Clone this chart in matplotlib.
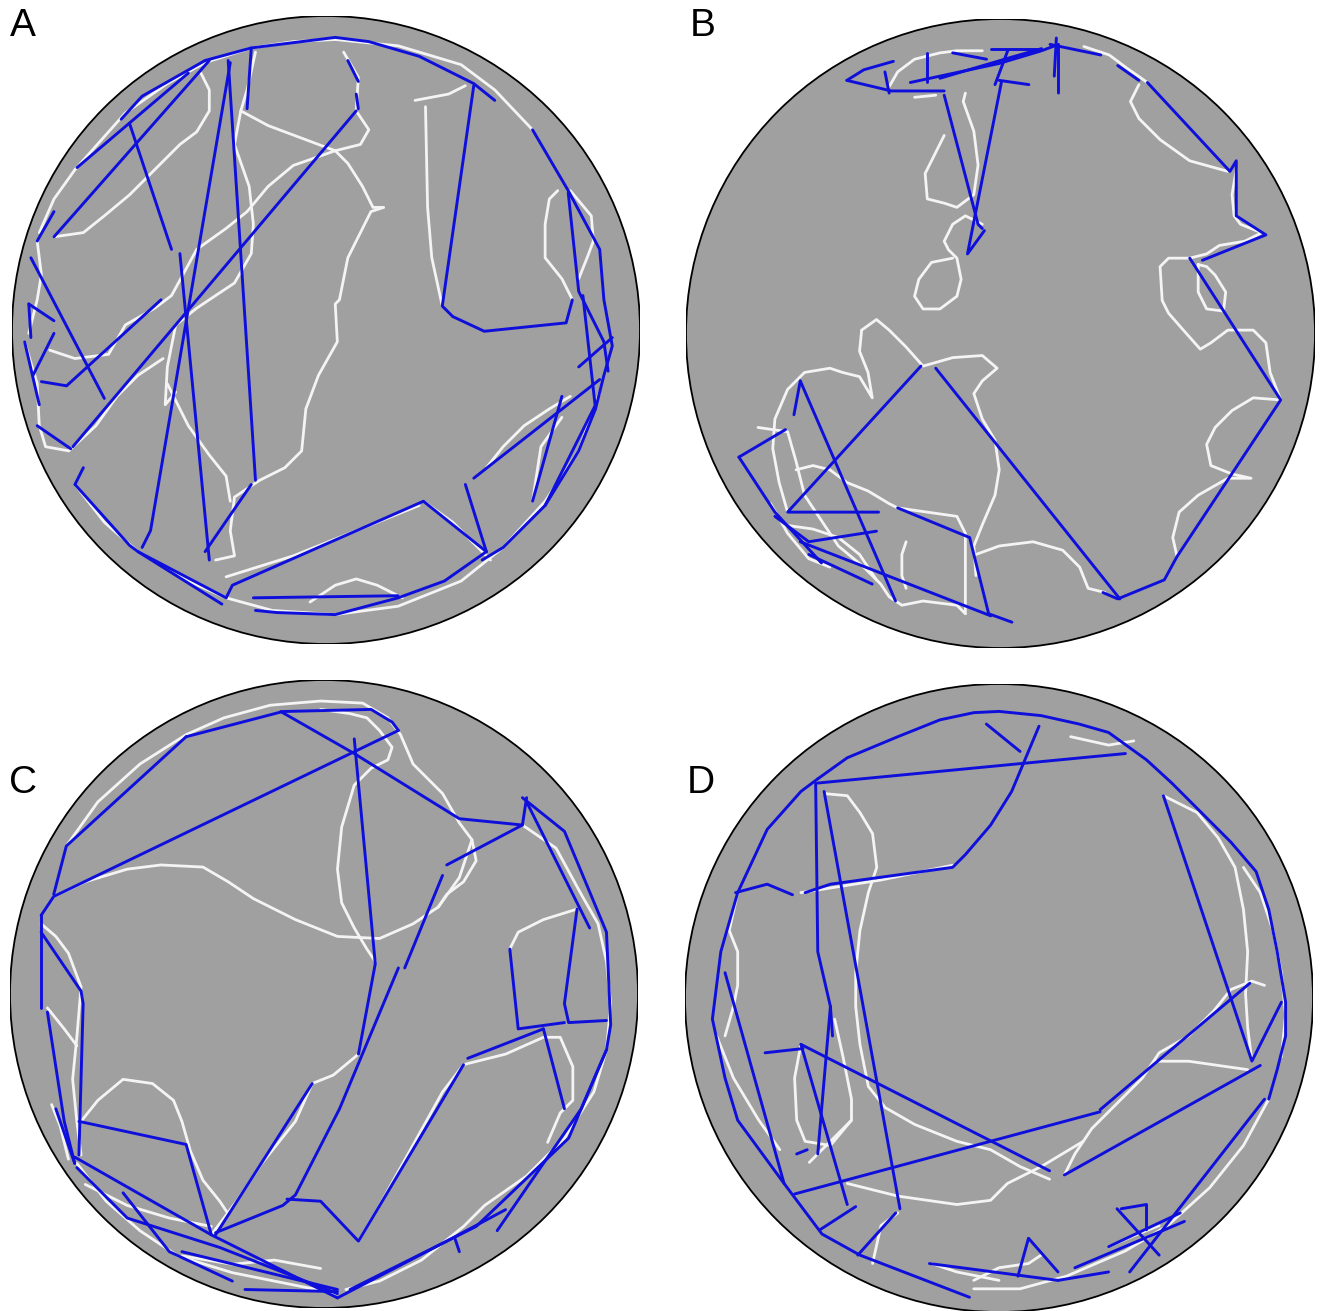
import matplotlib.pyplot as plt
from matplotlib.patches import Circle

# Arena geometry in tracker pixels (center x, center y, radius)
arena_a = (778, 772, 748)
arena_b = (803, 778, 743)
arena_c = (768, 797, 747)
arena_d = (800, 810, 745)

# Slow-swim segments (white) and fast-swim segments (blue), tracker pixel coords
a_white = [
    [(180, 390), (300, 255), (400, 185), (490, 135), (600, 100), (700, 85), (800, 80), (950, 95),
     (1100, 140), (1180, 200), (1270, 295)],
    [(990, 225), (1070, 210), (1110, 190)],
    [(1015, 240), (1020, 480), (1030, 600), (1055, 715)],
    [(915, 480), (885, 490), (850, 560), (830, 600), (810, 700), (800, 710), (805, 800), (760, 880),
     (730, 960), (720, 1060), (680, 1100), (620, 1130), (560, 1170), (550, 1250), (560, 1310), (515, 1320)],
    [(820, 110), (855, 170), (850, 250), (880, 295), (860, 330), (800, 345), (830, 375), (865, 430),
     (890, 480), (915, 480)],
    [(610, 110), (590, 200), (575, 250), (640, 285), (760, 330), (800, 345)],
    [(800, 345), (700, 380), (640, 430), (590, 490), (540, 530), (470, 580), (410, 690), (370, 720),
     (300, 760), (260, 830), (180, 840), (120, 820)],
    [(575, 250), (560, 330), (595, 430), (605, 520), (600, 590), (560, 660), (470, 720), (420, 760),
     (400, 860), (395, 950), (420, 920)],
    [(130, 550), (200, 540), (250, 500), (310, 450), (370, 390), (430, 330), (470, 300), (500, 250),
     (500, 200), (480, 160)],
    [(60, 800), (90, 900), (95, 1000), (110, 1050), (165, 1060), (230, 1000), (280, 930), (330, 880),
     (390, 840)],
    [(400, 900), (450, 1000), (500, 1070), (540, 1120), (550, 1180)],
    [(540, 1360), (700, 1310), (850, 1250), (1000, 1190)],
    [(740, 1420), (800, 1380), (850, 1365), (900, 1380), (960, 1410)],
    [(180, 1140), (250, 1230), (330, 1300), (450, 1370), (540, 1410), (650, 1440), (800, 1450),
     (950, 1430), (1100, 1370), (1200, 1290), (1300, 1180), (1380, 1060), (1430, 920)],
    [(1330, 440), (1310, 460), (1300, 520), (1300, 600), (1340, 650), (1365, 700)],
    [(1360, 440), (1410, 500), (1415, 560), (1400, 600), (1380, 650)],
    [(1160, 1100), (1200, 1050), (1250, 1000), (1310, 960), (1360, 930)],
    [(1010, 1180), (1080, 1230), (1150, 1300), (1170, 1320)],
    [(1270, 1180), (1290, 1050), (1340, 980)],
    [(90, 560), (100, 640), (90, 700), (70, 780)],
    [(180, 390), (130, 460), (95, 540)],
]
a_blue = [
    [(490, 130), (600, 100), (680, 90), (800, 75), (880, 85), (1000, 120), (1130, 185), (1180, 225)],
    [(1270, 295), (1355, 440), (1430, 580), (1440, 700), (1460, 810), (1440, 880), (1420, 960),
     (1380, 1060), (1300, 1190), (1200, 1290), (1150, 1320)],
    [(1130, 190), (1055, 715), (1080, 740), (1155, 775), (1350, 755), (1365, 700)],
    [(1355, 445), (1380, 680), (1440, 800), (1450, 870)],
    [(1390, 690), (1420, 960)],
    [(1380, 860), (1460, 790)],
    [(1430, 890), (1130, 1125)],
    [(1340, 930), (1270, 1180)],
    [(1420, 950), (1300, 1190)],
    [(1010, 1180), (555, 1380), (540, 1410)],
    [(1010, 1180), (1160, 1300)],
    [(1110, 1140), (1160, 1300)],
    [(1160, 1300), (1060, 1370), (950, 1410), (800, 1450), (660, 1445), (610, 1440)],
    [(540, 1410), (330, 1300), (310, 1285), (180, 1140)],
    [(605, 1410), (950, 1405)],
    [(330, 1300), (530, 1425)],
    [(600, 1140), (490, 1300)],
    [(545, 130), (610, 1130)],
    [(550, 135), (360, 1250), (340, 1290)],
    [(430, 590), (500, 1320)],
    [(850, 250), (175, 1050)],
    [(500, 130), (130, 550)],
    [(490, 130), (340, 215), (290, 270)],
    [(450, 160), (185, 385)],
    [(75, 600), (250, 935)],
    [(130, 490), (90, 560)],
    [(310, 280), (400, 550), (410, 580)],
    [(385, 700), (160, 905), (100, 895)],
    [(130, 780), (80, 880)],
    [(60, 800), (95, 950)],
    [(70, 710), (75, 790)],
    [(70, 710), (130, 750)],
    [(90, 1000), (170, 1055)],
    [(180, 1140), (200, 1100)],
    [(600, 100), (590, 245)],
    [(830, 130), (855, 180)],
    [(850, 210), (855, 245)],
]

b_white = [
    [(540, 195), (560, 160), (600, 130), (660, 115), (700, 110), (760, 110)],
    [(600, 220), (650, 215)],
    [(1000, 100), (1060, 120), (1100, 150), (1150, 185)],
    [(1130, 190), (1110, 230), (1130, 270), (1180, 320), (1250, 370), (1340, 395)],
    [(1360, 390), (1350, 450), (1355, 500), (1370, 520), (1420, 540), (1380, 560), (1320, 570),
     (1290, 590), (1250, 600), (1200, 600), (1180, 620), (1185, 700), (1200, 730), (1235, 770),
     (1275, 815), (1300, 800), (1340, 770), (1400, 770), (1430, 800), (1440, 870), (1465, 935),
     (1400, 930), (1350, 960), (1310, 1000), (1290, 1040), (1300, 1090), (1350, 1110), (1395, 1120),
     (1340, 1120), (1270, 1160), (1225, 1200), (1210, 1260), (1220, 1305)],
    [(1270, 615), (1270, 680), (1290, 720), (1330, 725), (1335, 680), (1310, 640), (1290, 620),
     (1270, 615)],
    [(720, 210), (715, 230), (740, 300), (750, 380), (740, 450), (700, 480), (670, 470), (630, 460),
     (625, 400), (650, 350), (670, 310)],
    [(760, 520), (720, 500), (690, 520), (670, 560), (680, 580), (700, 600), (710, 650), (700, 690),
     (660, 720), (620, 720), (600, 690), (610, 650), (640, 610), (690, 600)],
    [(475, 770), (510, 745), (540, 770), (580, 810), (620, 855), (690, 835), (760, 830), (795, 860),
     (760, 890), (740, 920), (760, 980), (790, 1030), (800, 1100), (790, 1160), (760, 1230),
     (740, 1280), (745, 1350)],
    [(475, 770), (470, 820), (490, 870), (500, 930), (470, 880), (430, 870), (400, 860), (340, 870),
     (300, 910), (270, 980), (265, 1050), (280, 1130), (300, 1200)],
    [(230, 1000), (300, 1010), (320, 1080), (340, 1160), (380, 1220), (420, 1280), (480, 1330),
     (520, 1370), (540, 1400), (570, 1420), (620, 1410), (700, 1420), (720, 1440)],
    [(320, 1100), (360, 1090), (400, 1100), (440, 1130), (490, 1150), (540, 1180), (560, 1190),
     (700, 1210), (720, 1250), (720, 1380), (720, 1440)],
    [(580, 1270), (570, 1300), (570, 1350), (580, 1380)],
    [(745, 1300), (800, 1280), (880, 1270), (950, 1290), (990, 1330), (1010, 1380), (1050, 1390)],
    [(290, 1230), (360, 1240), (420, 1260), (470, 1300), (510, 1360)],
    [(260, 1180), (300, 1250), (350, 1310), (400, 1330)],
]
b_blue = [
    [(440, 180), (545, 205), (670, 205)],
    [(440, 180), (480, 155), (550, 135)],
    [(540, 210), (530, 160)],
    [(630, 115), (630, 185)],
    [(590, 185), (800, 140), (900, 110), (940, 95), (940, 210)],
    [(660, 175), (830, 125), (900, 105)],
    [(780, 105), (890, 105)],
    [(920, 95), (1040, 120)],
    [(935, 80), (930, 170)],
    [(800, 180), (870, 190)],
    [(820, 110), (790, 190)],
    [(690, 115), (770, 130)],
    [(670, 215), (750, 520), (760, 530)],
    [(805, 185), (725, 590), (765, 535)],
    [(1080, 145), (1130, 180)],
    [(1150, 185), (1345, 395), (1360, 370), (1360, 500), (1430, 545), (1280, 605)],
    [(1250, 600), (1465, 935), (1220, 1305), (1190, 1360), (1080, 1405), (1045, 1390)],
    [(1085, 1405), (650, 860)],
    [(615, 855), (300, 1200), (515, 1200)],
    [(270, 1210), (350, 1270), (510, 1245)],
    [(330, 890), (555, 1410)],
    [(330, 890), (315, 970)],
    [(185, 1070), (295, 1005)],
    [(185, 1070), (270, 1200), (380, 1320)],
    [(560, 1190), (730, 1260), (775, 1440), (830, 1460)],
    [(330, 1270), (780, 1445)],
    [(350, 1300), (500, 1370)],
]

c_white = [
    [(155, 445), (230, 340), (330, 250), (440, 180), (530, 140), (640, 110), (760, 100), (860, 105),
     (920, 140), (950, 180), (980, 250), (1050, 320), (1090, 390), (1120, 430), (1130, 480),
     (1100, 530), (1060, 560), (1040, 590)],
    [(760, 120), (830, 130), (870, 140), (900, 170), (930, 210), (920, 240), (880, 260), (840, 300),
     (810, 400), (800, 500), (810, 580), (840, 640), (870, 690), (890, 720)],
    [(125, 565), (200, 530), (300, 500), (380, 490), (480, 495), (540, 530), (600, 570), (700, 620),
     (800, 660), (900, 665), (980, 630), (1040, 590), (1090, 520), (1120, 430)],
    [(95, 630), (130, 660), (160, 700), (190, 780), (180, 900), (170, 1000), (180, 1100), (190, 1180)],
    [(110, 830), (150, 880), (180, 920)],
    [(190, 1100), (230, 1050), (290, 1000), (360, 1010), (410, 1050), (430, 1100), (450, 1170),
     (480, 1240), (520, 1290), (540, 1320), (500, 1370)],
    [(500, 1370), (560, 1290), (620, 1200), (700, 1100), (740, 1010), (790, 990), (850, 940)],
    [(850, 1385), (900, 1300), (950, 1210), (1000, 1120), (1050, 1030), (1100, 965)],
    [(1100, 965), (1200, 940), (1290, 900), (1330, 900), (1360, 970), (1360, 1050), (1330, 1080),
     (1300, 1150)],
    [(1210, 690), (1230, 650), (1290, 620), (1370, 595)],
    [(1240, 395), (1320, 450), (1380, 560), (1420, 630), (1440, 720), (1450, 820), (1440, 930),
     (1410, 1030), (1340, 1140), (1250, 1230), (1150, 1300), (1100, 1350), (1000, 1430), (900, 1480),
     (820, 1500)],
    [(180, 1200), (250, 1290), (330, 1360), (420, 1420), (550, 1460), (700, 1490), (800, 1510)],
    [(200, 1250), (300, 1300), (400, 1330), (500, 1350)],
    [(430, 1420), (550, 1440), (650, 1430), (760, 1450)],
    [(120, 1060), (140, 1110), (160, 1190)],
]
c_blue = [
    [(440, 185), (670, 125), (880, 120), (930, 150), (945, 170)],
    [(665, 125), (840, 225), (1090, 380), (1240, 395)],
    [(945, 170), (125, 565), (95, 610)],
    [(440, 185), (155, 445), (125, 560)],
    [(840, 190), (890, 725), (850, 940)],
    [(945, 735), (805, 1070), (700, 1275), (670, 1300), (510, 1365)],
    [(1050, 515), (960, 735)],
    [(1060, 490), (1240, 395), (1250, 330)],
    [(1240, 330), (1340, 410), (1440, 650), (1450, 870), (1440, 930), (1380, 1070), (1290, 1200),
     (1180, 1360)],
    [(1250, 340), (1360, 560), (1400, 640)],
    [(1370, 595), (1340, 820), (1350, 865), (1440, 860)],
    [(1210, 690), (1230, 880), (1340, 865)],
    [(1290, 880), (1340, 1070)],
    [(1110, 950), (1290, 880)],
    [(1100, 965), (850, 1385), (760, 1290), (680, 1285)],
    [(740, 1010), (510, 1370)],
    [(185, 1100), (440, 1155), (500, 1370)],
    [(95, 650), (190, 790), (195, 820), (185, 1180)],
    [(110, 840), (150, 1100), (175, 1200)],
    [(175, 1185), (500, 1370), (800, 1520)],
    [(130, 1070), (175, 1200)],
    [(290, 1270), (400, 1410), (550, 1480)],
    [(180, 1210), (300, 1330), (520, 1400), (800, 1510)],
    [(430, 1410), (800, 1500)],
    [(580, 1500), (800, 1505)],
    [(800, 1520), (1060, 1385), (1200, 1310)],
    [(830, 1500), (1130, 1350), (1350, 1140), (1440, 930)],
    [(1080, 1380), (1090, 1410)],
    [(95, 610), (95, 830)],
]

d_white = [
    [(180, 560), (160, 650), (180, 700), (180, 780), (170, 830), (150, 900)],
    [(385, 325), (440, 330), (470, 370), (500, 420), (510, 500), (490, 560), (470, 650), (460, 750),
     (460, 830), (470, 920), (490, 1020), (530, 1070), (600, 1110), (700, 1150), (780, 1170),
     (850, 1210), (920, 1240)],
    [(330, 920), (315, 1000), (320, 1100), (340, 1150), (400, 1160), (450, 1100)],
    [(410, 860), (430, 950), (450, 1050), (450, 1100), (420, 1130), (380, 1170), (350, 1200)],
    [(330, 560), (520, 530), (690, 495)],
    [(1190, 330), (1270, 370), (1320, 430), (1360, 500), (1380, 600), (1390, 700), (1385, 800),
     (1390, 880), (1400, 960)],
    [(1430, 780), (1400, 770), (1350, 790), (1310, 840), (1250, 900), (1180, 940), (1140, 1000),
     (1080, 1060), (1020, 1120), (980, 1180), (955, 1230)],
    [(1170, 960), (1250, 960), (1320, 970), (1390, 980)],
    [(440, 1250), (560, 1280), (700, 1300), (780, 1290), (820, 1250), (900, 1210), (1000, 1150)],
    [(500, 1440), (520, 1350), (560, 1320)],
    [(740, 1500), (850, 1500), (960, 1470), (1100, 1410), (1200, 1350), (1300, 1260), (1380, 1160),
     (1440, 1050)],
    [(640, 1440), (700, 1460), (800, 1480)],
    [(740, 1480), (800, 1450), (870, 1440), (900, 1420)],
    [(1060, 1400), (1130, 1370), (1180, 1350)],
    [(1380, 500), (1420, 560), (1450, 650), (1470, 750), (1480, 850), (1470, 950)],
    [(970, 190), (1060, 210), (1120, 200)],
    [(130, 900), (170, 1000), (230, 1100), (280, 1170)],
]
d_blue = [
    [(370, 290), (440, 240), (560, 190), (660, 150), (740, 133), (800, 130), (900, 140), (990, 160),
     (1060, 180), (1150, 245), (1210, 300), (1290, 380), (1350, 440), (1410, 510), (1440, 600),
     (1460, 700), (1480, 820), (1480, 900), (1460, 980), (1440, 1050)],
    [(370, 300), (1100, 230)],
    [(895, 165), (830, 320), (780, 400), (720, 470), (690, 500), (400, 540), (340, 560)],
    [(770, 160), (850, 225)],
    [(370, 290), (330, 320), (250, 410), (180, 560), (140, 700), (120, 860), (150, 1000), (180, 1100),
     (290, 1250), (380, 1370), (470, 1420), (600, 1470), (730, 1520)],
    [(175, 560), (250, 540), (310, 565)],
    [(150, 750), (290, 1250)],
    [(385, 320), (565, 1310)],
    [(365, 300), (370, 700), (400, 830), (405, 900)],
    [(1190, 330), (1400, 960), (1470, 820)],
    [(1395, 775), (1040, 1075)],
    [(955, 1230), (1420, 970)],
    [(315, 1275), (1040, 1080)],
    [(330, 920), (920, 1220)],
    [(330, 920), (440, 1300)],
    [(245, 940), (335, 930)],
    [(320, 1180), (345, 1170)],
    [(375, 1360), (460, 1305)],
    [(465, 1420), (555, 1320)],
    [(635, 1440), (940, 1480)],
    [(845, 1470), (870, 1380), (940, 1460)],
    [(940, 1480), (1060, 1460)],
    [(980, 1450), (1240, 1340)],
    [(1110, 1460), (1430, 1050)],
    [(1080, 1310), (1180, 1420)],
    [(1090, 1310), (1150, 1300), (1150, 1360)],
    [(1060, 1400), (1230, 1320)],
    [(370, 1180), (400, 830)],
]

panel_labels = ['A', 'B', 'C', 'D']

W, H = 1323, 1311
fig = plt.figure(figsize=(W / 100, H / 100), dpi=100)
fig.patch.set_facecolor('white')

# axes boxes in pixels: left, top, size
boxes = [(12, 16, 628), (686, 19, 629), (10, 680, 628), (685, 684, 628)]
label_pos = [(23, 26), (703, 26), (23, 783), (701, 783)]

panels = [
    (arena_a, a_white, a_blue),
    (arena_b, b_white, b_blue),
    (arena_c, c_white, c_blue),
    (arena_d, d_white, d_blue),
]


def draw_arena(ax, arena, white, blue):
    cx, cy, r = arena
    ax.add_patch(Circle((cx, cy), r, facecolor='#a0a0a0', edgecolor='black', lw=1.3, zorder=1))
    for seg in white:
        xs, ys = zip(*seg)
        ax.plot(xs, ys, color='#f4f4f4', lw=2.0, solid_capstyle='round',
                solid_joinstyle='round', zorder=2)
    for seg in blue:
        xs, ys = zip(*seg)
        ax.plot(xs, ys, color='#0f0fdc', lw=2.1, solid_capstyle='round',
                solid_joinstyle='round', zorder=3)
    ax.set_xlim(cx - r, cx + r)
    ax.set_ylim(cy + r, cy - r)
    ax.set_aspect('equal')
    ax.axis('off')


for (left, top, size), (arena, white, blue) in zip(boxes, panels):
    ax = fig.add_axes([left / W, 1 - (top + size) / H, size / W, size / H])
    draw_arena(ax, arena, white, blue)

for lab, (x, y) in zip(panel_labels, label_pos):
    fig.text(x / W, 1 - y / H, lab, fontsize=28, family='Liberation Sans',
             ha='center', va='center')

fig.savefig('out.png', dpi=100)
